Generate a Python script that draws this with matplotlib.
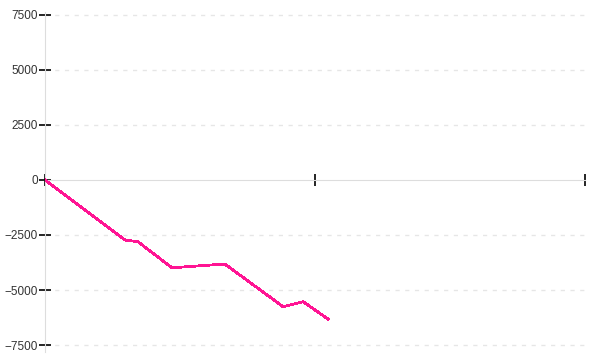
import matplotlib
matplotlib.use('Agg')
import matplotlib.pyplot as plt
import numpy as np

# series (x as % of the axis span)
x_vals = [0, 14.8, 17.2, 23.5, 24.6, 33.3, 44.1, 47.8, 52.4]
y_vals = [0, -2727, -2805, -3986, -3970, -3820, -5760, -5530, -6320]
y_ticks = [-7500, -5000, -2500, 0, 2500, 5000, 7500]
x_ticks = [0, 50, 100]

line_color = '#ff1493'
grid_color = '#e6e6e6'

plt.rcParams['font.family'] = ['Liberation Sans', 'DejaVu Sans']

fig = plt.figure(figsize=(6, 3.6), dpi=100)
ax = fig.add_axes([45 / 600, 1 - 352 / 360, 540 / 600, 340 / 360])

ax.set_xlim(0, 100)
ax.set_ylim(-7818, 7636)

# dashed horizontal grid (skip zero, the axis sits there)
for t in y_ticks:
    if t != 0:
        ax.axhline(t, color=grid_color, lw=1, ls=(0, (3, 4)), zorder=0)

ax.plot(x_vals, y_vals, color=line_color, lw=1.3, antialiased=False, zorder=3)

for s in ['top', 'right']:
    ax.spines[s].set_visible(False)
ax.spines['left'].set_color('#dddddd')
ax.spines['bottom'].set_color('#dddddd')
ax.spines['bottom'].set_position(('data', 0))

ax.set_xticks(x_ticks)
ax.set_xticklabels([])
ax.tick_params(axis='x', direction='inout', length=9, width=1.2, color='black')
ax.set_yticks(y_ticks)
ax.tick_params(axis='y', direction='inout', length=8, width=1.2, color='black',
               labelsize=8.5, labelcolor='#333333', pad=1)

fig.savefig('out.png', dpi=100)
